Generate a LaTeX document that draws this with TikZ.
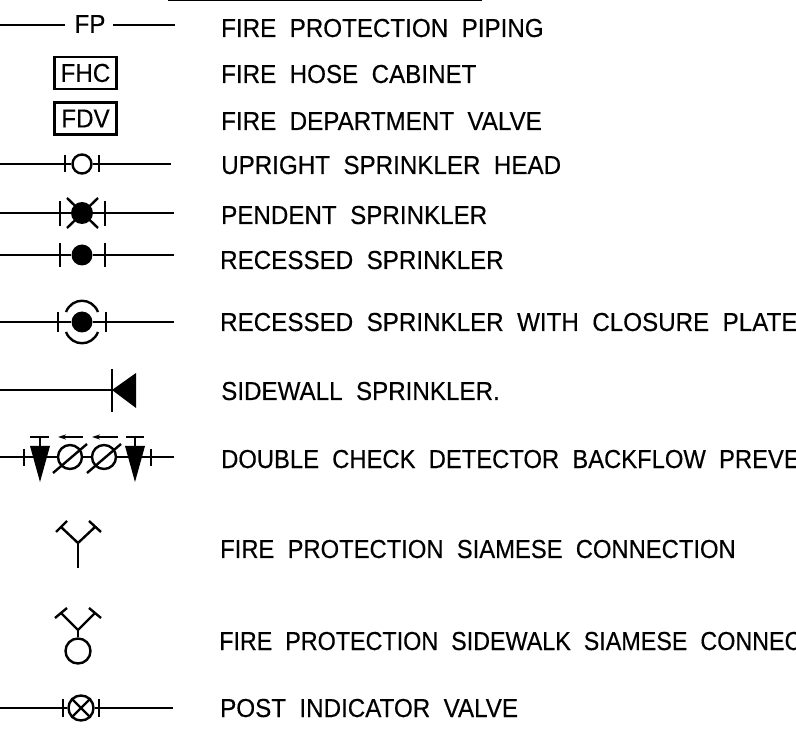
\documentclass[tikz,border=0pt]{standalone}
\usepackage{fontspec}
\usetikzlibrary{arrows.meta}
\newfontfamily\legendfont[FakeStretch=0.93,FakeBold=0.35,WordSpace=2]{Liberation Sans}
\newfontfamily\legendtight[FakeStretch=0.915,FakeBold=0.35,WordSpace=2]{Liberation Sans}
\newfontfamily\legendnarrow[FakeStretch=0.897,FakeBold=0.35,WordSpace=2]{Liberation Sans}
\tikzset{
  legend/.style={anchor=base west,inner sep=0pt,font=\legendfont\fontsize{26}{26}\selectfont},
  legendt/.style={anchor=base west,inner sep=0pt,font=\legendtight\fontsize{26}{26}\selectfont},
  legendn/.style={anchor=base west,inner sep=0pt,font=\legendnarrow\fontsize{26}{26}\selectfont},
  tag/.style={draw,line width=2.4pt,inner sep=0pt,minimum width=62pt,minimum height=32pt,font=\legendfont\fontsize{26}{26}\selectfont},
  pipe/.style={draw,line width=2.4pt},
  head/.style={draw,circle,line width=2.4pt,inner sep=0pt,minimum size=#1},
  solidhead/.style={circle,fill=black,inner sep=0pt,minimum size=#1}
}
\begin{document}
\begin{tikzpicture}[x=1pt,y=-1pt]
\useasboundingbox (0,0) rectangle (796,743);
\clip (0,0) rectangle (796,743);

\coordinate (titlea) at (168,0);
\coordinate (titleb) at (482,0);
\path[pipe] (titlea) -- (titleb);

\node[legend] (t1) at (221,37) {FIRE PROTECTION PIPING};
\node[legend] (t2) at (221,83) {FIRE HOSE CABINET};
\node[legend] (t3) at (221,130) {FIRE DEPARTMENT VALVE};
\node[legend] (t4) at (221,174) {UPRIGHT SPRINKLER HEAD};
\node[legend] (t5) at (221,224) {PENDENT SPRINKLER};
\node[legend] (t6) at (220,269) {RECESSED SPRINKLER};
\node[legend] (t7) at (220,331) {RECESSED SPRINKLER WITH CLOSURE PLATE};
\node[legend] (t8) at (221,400) {SIDEWALL SPRINKLER.};
\node[legendt] (t9) at (221,468) {DOUBLE CHECK DETECTOR BACKFLOW PREVE};
\node[legendt] (t10) at (220,558) {FIRE PROTECTION SIAMESE CONNECTION};
\node[legendn] (t11) at (219,650) {FIRE PROTECTION SIDEWALK SIAMESE CONNEC};
\node[legend] (t12) at (220,717) {POST INDICATOR VALVE};

\node[inner sep=0pt,font=\legendfont\fontsize{26}{26}\selectfont] (fp) at (90,24) {FP};
\coordinate (fpa) at (0,25);
\coordinate (fpb) at (65,25);
\coordinate (fpc) at (113,25);
\coordinate (fpd) at (175,25);
\path[pipe] (fpa) -- (fpb);
\path[pipe] (fpc) -- (fpd);

\node[tag] (fhc) at (85.5,73) {FHC};
\node[tag] (fdv) at (85.5,118.5) {FDV};

\node[head=19pt] (up) at (82,164) {};
\coordinate (upa) at (0,164);
\coordinate (upb) at (65,164);
\coordinate (upc) at (99,164);
\coordinate (upd) at (171,164);
\path[pipe] (upa) -- (upb);
\path[pipe] (upb) -- (up);
\path[pipe] (up) -- (upc);
\path[pipe] (upc) -- (upd);
\path[pipe] (65,155) -- (65,172);
\path[pipe] (99,155) -- (99,172);

\node[solidhead=22pt] (pe) at (82,213) {};
\coordinate (pea) at (0,213);
\coordinate (pec) at (105,213);
\coordinate (ped) at (174,213);
\path[pipe] (pea) -- (pec);
\path[pipe] (pec) -- (ped);
\path[pipe] (60,201) -- (60,226);
\path[pipe] (105,201) -- (105,226);
\path[pipe] (67,198) -- (98,228);
\path[pipe] (98,198) -- (67,228);

\node[solidhead=21pt] (re) at (82,255) {};
\coordinate (rea) at (0,255);
\coordinate (red) at (174,255);
\path[pipe] (rea) -- (re);
\path[pipe] (re) -- (red);
\path[pipe] (60,243) -- (60,267);
\path[pipe] (105,243) -- (105,267);

\node[solidhead=21pt] (cl) at (82,322) {};
\coordinate (cla) at (0,322);
\coordinate (cld) at (174,322);
\path[pipe] (cla) -- (cl);
\path[pipe] (cl) -- (cld);
\path[pipe] (58,312) -- (58,332);
\path[pipe] (106,312) -- (106,332);
\path[pipe] (66,312) .. controls (72,297) and (92,297) .. (98,312);
\path[pipe] (66,332) .. controls (72,347) and (92,347) .. (98,332);

\coordinate (sia) at (0,390);
\coordinate (sib) at (112,390);
\path[pipe] (sia) -- (sib);
\path[pipe] (112,369) -- (112,412);
\path[fill=black] (sib) -- (136,373) -- (136,408) -- cycle;

\node[head=24pt] (dc1) at (70,457) {};
\node[head=24pt] (dc2) at (104,457) {};
\coordinate (dca) at (0,457);
\coordinate (dc3) at (40,457);
\coordinate (dc4) at (135,457);
\coordinate (dcb) at (174,457);
\path[pipe] (dca) -- (dc3);
\path[pipe] (dc3) -- (dc1);
\path[pipe] (dc1) -- (dc2);
\path[pipe] (dc2) -- (dc4);
\path[pipe] (dc4) -- (dcb);
\path[pipe] (24,449) -- (24,466);
\path[pipe] (151,449) -- (151,466);
\path[fill=black] (30,446) -- (50,446) -- (40,482) -- cycle;
\path[fill=black] (125,446) -- (145,446) -- (135,482) -- cycle;
\path[pipe] (40,437) -- (40,447);
\path[pipe] (135,437) -- (135,447);
\path[pipe] (30,437) -- (49,437);
\path[pipe] (126,437) -- (144,437);
\path[pipe] (53,473) -- (87,444);
\path[pipe] (87,473) -- (121,444);
\path[pipe,-{Stealth[length=8pt,width=5pt]}] (83,437) -- (58,437);
\path[pipe,-{Stealth[length=8pt,width=5pt]}] (118,437) -- (92,437);

\coordinate (sma) at (78,543);
\coordinate (smb) at (78,568);
\path[pipe] (sma) -- (smb);
\path[pipe] (sma) -- (61,527);
\path[pipe] (sma) -- (95,527);
\path[pipe] (56,532) -- (67,521);
\path[pipe] (89,521) -- (101,532);

\node[head=25pt] (sw) at (78,651) {};
\coordinate (swa) at (78,630);
\path[pipe] (swa) -- (sw);
\path[pipe] (swa) -- (61,613);
\path[pipe] (swa) -- (95,613);
\path[pipe] (55,618) -- (67,608);
\path[pipe] (89,608) -- (101,618);

\node[head=25pt] (pv) at (81,708) {};
\coordinate (pva) at (0,708);
\coordinate (pvb) at (173,708);
\path[pipe] (pva) -- (pv);
\path[pipe] (pv) -- (pvb);
\path[pipe] (63,699) -- (63,717);
\path[pipe] (99,699) -- (99,717);
\path[pipe] (pv.north west) -- (pv.south east);
\path[pipe] (pv.north east) -- (pv.south west);
\end{tikzpicture}
\end{document}
